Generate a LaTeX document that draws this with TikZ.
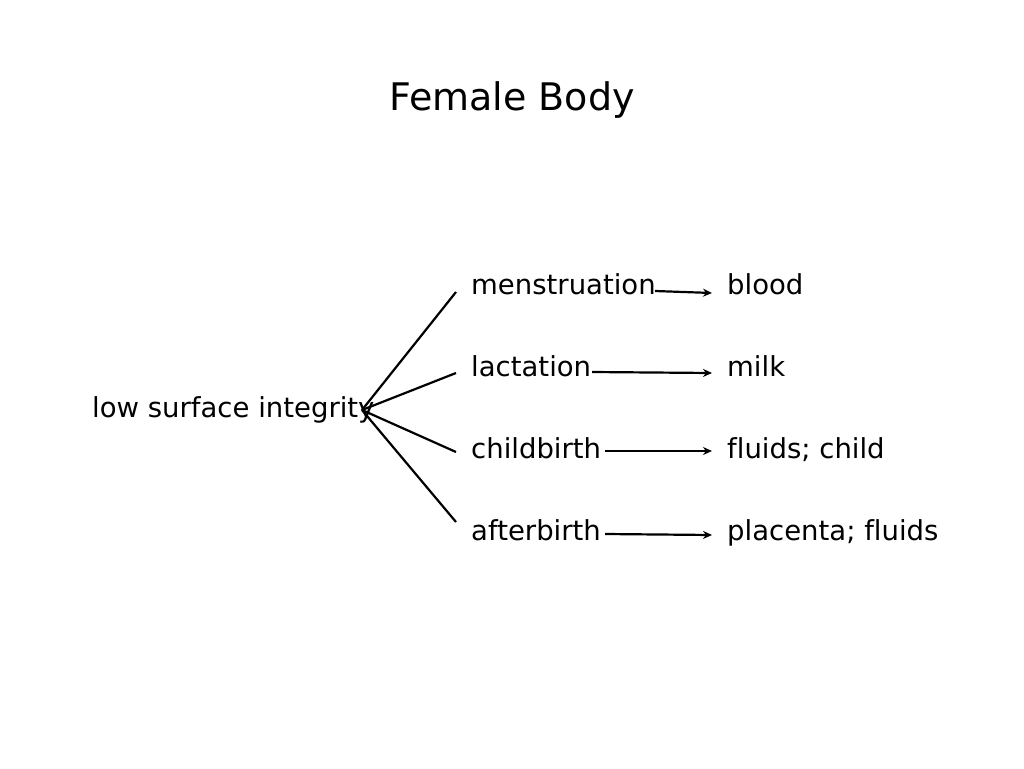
\documentclass[tikz,border=0pt]{standalone}
\usepackage{fontspec}
\setmainfont[Ligatures=NoCommon]{DejaVu Sans}
\usetikzlibrary{arrows.meta}
\begin{document}
\begin{tikzpicture}[x=1pt,y=-1pt,
  lbl/.style={anchor=base west,inner sep=0pt,font=\fontsize{27.5}{32}\selectfont},
  ln/.style={line width=2.2pt},
  arr/.style={line width=2.2pt,-{Stealth[length=9pt,width=8pt]}}]
\useasboundingbox (0,0) rectangle (1024,768);
\node[anchor=base,inner sep=0pt,font=\fontsize{38}{44}\selectfont] (title) at (512,110) {Female Body};
\node[lbl] (low) at (92,417) {low surface integrity};
\node[lbl] (m) at (471,294) {menstruation};
\node[lbl] (l) at (471,376) {lactation};
\node[lbl] (c) at (471,458) {childbirth};
\node[lbl] (a) at (471,540) {afterbirth};
\node[lbl] (b) at (727,294) {blood};
\node[lbl] (mi) at (727,376) {milk};
\node[lbl] (f) at (727,458) {fluids; child};
\node[lbl] (p) at (727,540) {placenta; fluids};
\coordinate (hub) at (362,410);
\coordinate (m0) at (456,292);
\coordinate (l0) at (456,373);
\coordinate (c0) at (456,452);
\coordinate (a0) at (456,522);
\draw[ln] (hub) -- (m0);
\draw[ln] (hub) -- (l0);
\draw[ln] (hub) -- (c0);
\draw[ln] (hub) -- (a0);
\coordinate (m1) at (655,291); \coordinate (b1) at (712,293);
\coordinate (l1) at (592,372); \coordinate (mi1) at (712,373);
\coordinate (c1) at (605,451); \coordinate (f1) at (712,451);
\coordinate (a1) at (605,534); \coordinate (p1) at (712,535);
\draw[arr] (m1) -- (b1);
\draw[arr] (l1) -- (mi1);
\draw[arr] (c1) -- (f1);
\draw[arr] (a1) -- (p1);
\end{tikzpicture}
\end{document}
